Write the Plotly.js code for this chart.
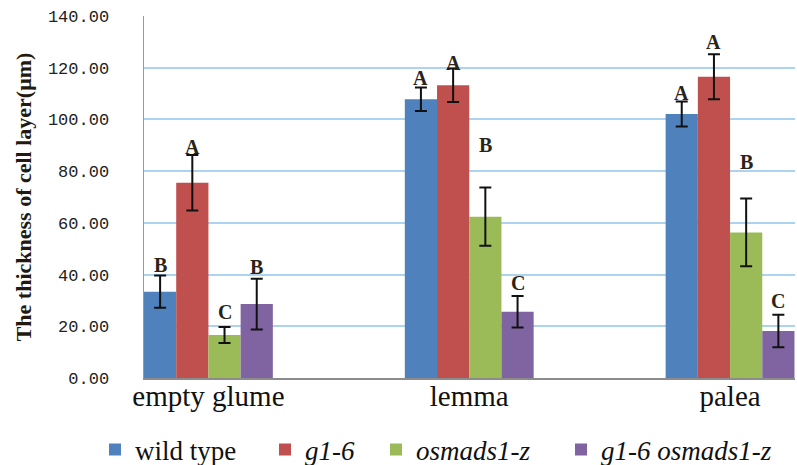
<!DOCTYPE html>
<html>
<head>
<meta charset="utf-8">
<script src="https://cdn.plot.ly/plotly-3.0.1.min.js"></script>
<style>html,body{margin:0;padding:0;background:#fff;}#chart{width:797px;height:465px;}</style>
</head>
<body>
<div id="chart"></div>
<script>
// ---- data ----
var categories = ["empty glume", "lemma", "palea"];
var seriesNames = ["wild type", "<i>g1-6</i>", "<i>osmads1-z</i>", "<i>g1-6 osmads1-z</i>"];
var wildType      = [33.4, 107.8, 102.1];
var g16           = [75.5, 113.2, 116.5];
var osmads1z      = [16.6, 62.4, 56.3];
var g16osmads1z   = [28.6, 25.6, 18.2];
var wildTypeErr   = [6.2, 4.5, 4.8];
var g16Err        = [10.7, 6.5, 8.7];
var osmads1zErr   = [3.1, 11.3, 13.1];
var g16osmads1zErr= [9.8, 6.1, 6.3];
// significance letters (per series, per category) and their heights
var wildTypeLetters    = ["B", "A", "A"];
var g16Letters         = ["A", "A", "A"];
var osmads1zLetters    = ["C", "B", "B"];
var g16osmads1zLetters = ["B", "C", "C"];
var wildTypeLetterY    = [43.7, 116.1, 110.3];
var g16LetterY         = [89.4, 121.7, 129.8];
var osmads1zLetterY    = [25.4, 90.1, 83.4];
var g16osmads1zLetterY = [43.0, 36.6, 29.8];
var yTicks = [0, 20, 40, 60, 80, 100, 120, 140];

// ---- styling ----
var SERIF = "Liberation Serif";
var colors = ["#4F81BD", "#C0504D", "#9BBB59", "#8064A2"];
var legendX = [95, 265, 376, 561];   // px, container coordinates
var values = [wildType, g16, osmads1z, g16osmads1z];
var errs = [wildTypeErr, g16Err, osmads1zErr, g16osmads1zErr];
var letters = [wildTypeLetters, g16Letters, osmads1zLetters, g16osmads1zLetters];
var letterY = [wildTypeLetterY, g16LetterY, osmads1zLetterY, g16osmads1zLetterY];
var bargap = 0.506;
var catIdx = categories.map(function(c, i){ return i; });
var legendIds = ["legend", "legend2", "legend3", "legend4"];

var traces = values.map(function(v, j){
  return {
    type: "bar",
    name: seriesNames[j],
    legend: legendIds[j],
    x: catIdx,
    y: v,
    marker: {color: colors[j]},
    error_y: {type: "data", array: errs[j], visible: true, color: "#111", thickness: 2, width: 6}
  };
});

var annotations = [];
var nS = values.length;
var w = (1 - bargap) / nS;
letters.forEach(function(arr, j){
  arr.forEach(function(t, i){
    annotations.push({
      x: i + (j - (nS - 1) / 2) * w, y: letterY[j][i], xref: "x", yref: "y",
      text: "<b>" + t + "</b>", showarrow: false, yanchor: "middle", xanchor: "center",
      font: {family: SERIF, size: 20, color: "#2a2418"}
    });
  });
});

var layout = {
  width: 797, height: 465,
  margin: {l: 144, r: 2, t: 16, b: 87},
  paper_bgcolor: "#fff", plot_bgcolor: "#fff",
  barmode: "group", bargap: bargap, bargroupgap: 0,
  showlegend: true,
  xaxis: {
    type: "linear", range: [-0.247, 2.249],
    tickmode: "array", tickvals: catIdx, ticktext: categories,
    showgrid: false, zeroline: false,
    showline: true, linecolor: "#8c8c8c", linewidth: 2,
    ticks: "", ticklabelstandoff: -9,
    tickfont: {family: SERIF, size: 29, color: "#111"}
  },
  yaxis: {
    range: [0, 140],
    tickmode: "array", tickvals: yTicks,
    tickformat: ".2f",
    showgrid: true, gridcolor: "#acd3f0", gridwidth: 2,
    zeroline: false, showline: true, linecolor: "#999", linewidth: 1.5,
    ticks: "", ticklabelstandoff: 30,
    automargin: true,
    tickfont: {family: "Liberation Mono", size: 17, color: "#222"},
    title: {
      text: "<b>The thickness of cell layer(μm)</b>", standoff: 10,
      font: {family: SERIF, size: 22, color: "#221a10"}
    }
  },
  annotations: annotations
};
legendIds.forEach(function(id, j){
  layout[id] = {
    orientation: "h", xref: "container", yref: "container",
    x: legendX[j] / 797, xanchor: "left", y: 15 / 465, yanchor: "middle",
    font: {family: SERIF, size: 27, color: "#111"},
    itemwidth: 30, bgcolor: "rgba(0,0,0,0)"
  };
});

Plotly.newPlot("chart", traces, layout, {displayModeBar: false, staticPlot: true});
</script>
</body>
</html>
